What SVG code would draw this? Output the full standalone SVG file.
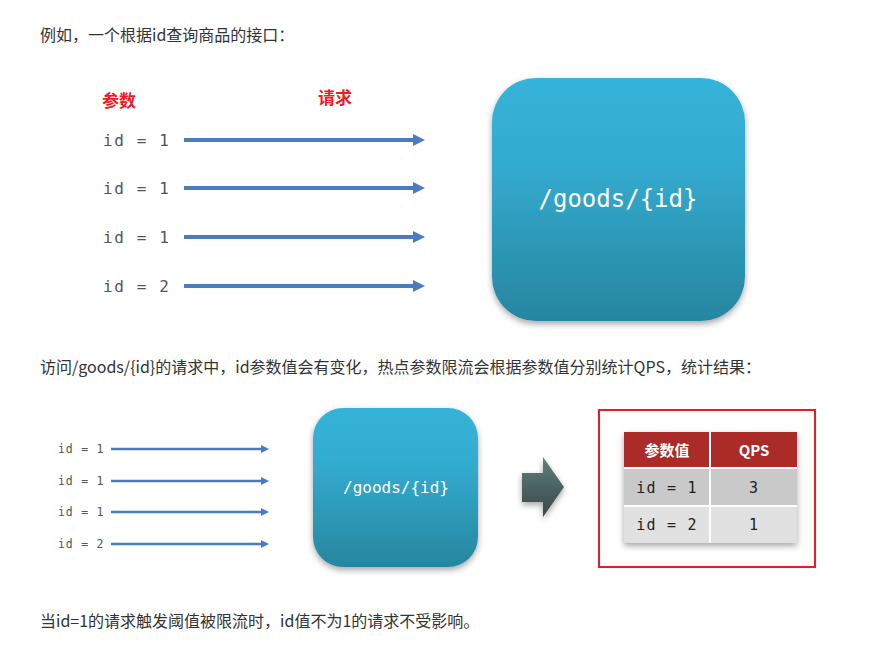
<svg xmlns="http://www.w3.org/2000/svg" width="890" height="658" viewBox="0 0 890 658">
<style>
.body{font-family:"Noto Sans CJK SC","Noto Sans",sans-serif;font-size:16px;fill:#333}
.red{font-family:"Noto Sans CJK SC",sans-serif;font-size:17px;font-weight:bold;fill:#ee1c25}
.idb{font-family:"DejaVu Sans Mono",monospace;font-size:16px;letter-spacing:1.6px;fill:#555}
.ids{font-family:"DejaVu Sans Mono",monospace;font-size:11.5px;letter-spacing:0.8px;fill:#555}
.boxt{font-family:"DejaVu Sans Mono",monospace;fill:#fff;text-anchor:middle}
.arrL{stroke:#4a7dbd;stroke-width:4;fill:none}
.arrS{stroke:#4a7dbd;stroke-width:2.5;fill:none}
.th{font-family:"Noto Sans CJK SC",sans-serif;font-size:15px;font-weight:bold;fill:#fff;text-anchor:middle}
.td{font-family:"DejaVu Sans Mono",monospace;font-size:15px;letter-spacing:1.2px;fill:#222;text-anchor:middle}
</style>
<defs>
<linearGradient id="gBox" x1="0" y1="0" x2="0" y2="1">
<stop offset="0" stop-color="#36b3d8"/>
<stop offset="0.35" stop-color="#33abd0"/>
<stop offset="1" stop-color="#27869f"/>
</linearGradient>
<linearGradient id="gGrey" x1="0" y1="0" x2="0" y2="1">
<stop offset="0" stop-color="#5d807e"/>
<stop offset="1" stop-color="#3a4646"/>
</linearGradient>
<filter id="sh" x="-10%" y="-10%" width="120%" height="125%">
<feDropShadow dx="0" dy="3" stdDeviation="3" flood-color="#000" flood-opacity="0.35"/>
</filter>
<filter id="shs" x="-10%" y="-10%" width="120%" height="130%">
<feDropShadow dx="0" dy="2" stdDeviation="1.5" flood-color="#000" flood-opacity="0.25"/>
</filter>
<marker id="mL" viewBox="0 0 12 12" markerWidth="12" markerHeight="12" markerUnits="userSpaceOnUse" refX="1" refY="6" orient="auto">
<path d="M0,0 L12,6 L0,12 z" fill="#4a7dbd"/>
</marker>
<marker id="mS" viewBox="0 0 8 8" markerWidth="8" markerHeight="8" markerUnits="userSpaceOnUse" refX="1" refY="4" orient="auto">
<path d="M0,0 L8,4 L0,8 z" fill="#4a7dbd"/>
</marker>
</defs>
<rect width="890" height="658" fill="#fff"/>

<text class="body" x="40" y="41">例如，一个根据id查询商品的接口：</text>
<text class="body" x="40" y="373">访问/goods/{id}的请求中，id参数值会有变化，热点参数限流会根据参数值分别统计QPS，统计结果：</text>
<text class="body" x="40" y="627">当id=1的请求触发阈值被限流时，id值不为1的请求不受影响。</text>

<g id="labels-top">
<text class="red" x="102" y="107">参数</text>
<text class="red" x="318" y="104">请求</text>
</g>

<g id="params-top">
<text class="idb" x="103" y="146">id = 1</text>
<text class="idb" x="103" y="194">id = 1</text>
<text class="idb" x="103" y="243">id = 1</text>
<text class="idb" x="103" y="292">id = 2</text>
</g>

<g id="node-goods-large">
<rect x="492" y="78" width="253" height="243" rx="44" fill="url(#gBox)" filter="url(#sh)"/>
<text class="boxt" x="618" y="207" font-size="24">/goods/{id}</text>
</g>

<g id="params-bottom">
<text class="ids" x="58" y="453">id = 1</text>
<text class="ids" x="58" y="485">id = 1</text>
<text class="ids" x="58" y="516">id = 1</text>
<text class="ids" x="58" y="548">id = 2</text>
</g>

<g id="node-goods-small">
<rect x="313" y="408" width="165" height="159" rx="30" fill="url(#gBox)" filter="url(#sh)"/>
<text class="boxt" x="396" y="493" font-size="16">/goods/{id}</text>
</g>

<g id="node-big-arrow">
<path d="M522,473 L543,473 L543,457 L564,487 L543,517 L543,502 L522,502 z" fill="url(#gGrey)" filter="url(#sh)"/>
</g>

<g id="node-result">
<rect x="599" y="410" width="216" height="157" fill="none" stroke="#e81c24" stroke-width="2"/>
<g filter="url(#sh)">
<rect x="624" y="432" width="173" height="111" fill="#fff"/>
</g>
<rect x="624" y="432" width="85" height="35" fill="#aa2b27"/>
<rect x="711" y="432" width="86" height="35" fill="#aa2b27"/>
<rect x="624" y="469" width="85" height="36" fill="#c9c9c9"/>
<rect x="711" y="469" width="86" height="36" fill="#c9c9c9"/>
<rect x="624" y="507" width="85" height="36" fill="#e1e1e1"/>
<rect x="711" y="507" width="86" height="36" fill="#e1e1e1"/>
<text class="th" x="667" y="456">参数值</text>
<text class="th" x="754" y="456">QPS</text>
<text class="td" x="667" y="493">id = 1</text>
<text class="td" x="754" y="493">3</text>
<text class="td" x="667" y="530">id = 2</text>
<text class="td" x="754" y="530">1</text>
</g>

<g id="connectors">
<line class="arrL" x1="184" y1="140" x2="414" y2="140" marker-end="url(#mL)"/>
<line class="arrL" x1="184" y1="188" x2="414" y2="188" marker-end="url(#mL)"/>
<line class="arrL" x1="184" y1="237" x2="414" y2="237" marker-end="url(#mL)"/>
<line class="arrL" x1="184" y1="286" x2="414" y2="286" marker-end="url(#mL)"/>
<line class="arrS" x1="111" y1="449" x2="262" y2="449" marker-end="url(#mS)"/>
<line class="arrS" x1="111" y1="481" x2="262" y2="481" marker-end="url(#mS)"/>
<line class="arrS" x1="111" y1="512" x2="262" y2="512" marker-end="url(#mS)"/>
<line class="arrS" x1="111" y1="544" x2="262" y2="544" marker-end="url(#mS)"/>
</g>
</svg>
